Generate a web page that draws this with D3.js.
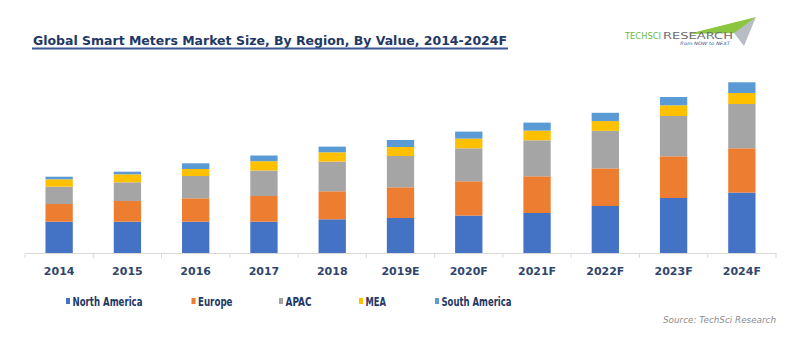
<!DOCTYPE html>
<html>
<head>
<meta charset="utf-8">
<script src="https://cdn.jsdelivr.net/npm/d3@7.9.0/dist/d3.min.js"></script>
<style>
  html, body { margin: 0; padding: 0; background: #fff; }
  svg { display: block; }
</style>
</head>
<body>
<div id="chart"></div>
<script>
// -------- data (arbitrary units) --------
const years = ['2014', '2015', '2016', '2017', '2018', '2019E', '2020F', '2021F', '2022F', '2023F', '2024F'];
const regions = ['North America', 'Europe', 'APAC', 'MEA', 'South America'];
const northAmerica = [31.3, 31.3, 31.3, 31.3, 33.7, 35.0, 37.4, 40.0, 47.0, 55.0, 60.4];
const europe       = [17.7, 20.7, 23.4, 25.7, 28.0, 30.7, 34.3, 36.7, 37.6, 41.7, 44.3];
const apac         = [17.3, 18.7, 22.3, 25.5, 29.7, 31.3, 33.0, 36.0, 37.6, 40.3, 44.3];
const mea          = [7.4, 8.0, 7.0, 9.3, 9.3, 9.0, 9.7, 9.7, 9.7, 10.7, 11.0];
const southAmerica = [2.6, 2.6, 5.7, 5.7, 5.7, 7.0, 7.0, 8.0, 8.3, 8.3, 10.7];
const colors = ['#4472c4', '#ed7d31', '#a5a5a5', '#ffc000', '#5b9bd5'];

const series = [northAmerica, europe, apac, mea, southAmerica];
const table = years.map((y, i) => {
  const row = { year: y };
  regions.forEach((r, k) => { row[r] = series[k][i]; });
  return row;
});

// -------- layout --------
const width = 800;
const height = 358;
const svg = d3.select('#chart').append('svg')
  .attr('width', width)
  .attr('height', height);

const navy = '#1f3864';

// title
svg.append('text')
  .attr('x', 33)
  .attr('y', 45)
  .attr('font-family', 'DejaVu Sans Condensed, DejaVu Sans')
  .attr('font-weight', 'bold')
  .attr('font-size', 13)
  .attr('fill', navy)
  .attr('textLength', 474)
  .attr('lengthAdjust', 'spacingAndGlyphs')
  .text('Global Smart Meters Market Size, By Region, By Value, 2014-2024F');
svg.append('line')
  .attr('x1', 32).attr('x2', 508)
  .attr('y1', 48.5).attr('y2', 48.5)
  .attr('stroke', '#3a5795')
  .attr('stroke-width', 2);

// logo (decoration)
const logo = svg.append('g').attr('class', 'logo');
logo.append('path')
  .attr('d', 'M688,34 L756,17 L738,33 Z')
  .attr('fill', '#8cc63f');
logo.append('path')
  .attr('d', 'M734,33 L756,17 L744,46 Z')
  .attr('fill', '#b8bcc4');
logo.append('text')
  .attr('x', 625).attr('y', 39)
  .attr('font-family', 'DejaVu Sans')
  .attr('font-size', 8)
  .attr('textLength', 36)
  .attr('lengthAdjust', 'spacingAndGlyphs')
  .attr('fill', '#6dbb3c')
  .text('TECHSCI');
logo.append('text')
  .attr('x', 663).attr('y', 39)
  .attr('font-family', 'DejaVu Sans')
  .attr('font-size', 8)
  .attr('textLength', 70)
  .attr('lengthAdjust', 'spacingAndGlyphs')
  .attr('fill', '#6d6e71')
  .text('RESEARCH');
logo.append('text')
  .attr('x', 680).attr('y', 45)
  .attr('font-family', 'DejaVu Sans')
  .attr('font-style', 'italic')
  .attr('font-size', 4.5)
  .attr('textLength', 50)
  .attr('lengthAdjust', 'spacingAndGlyphs')
  .attr('fill', '#2e5597')
  .text('from NOW to NEXT');

// scales
const x = d3.scaleBand()
  .domain(years)
  .range([25, 776])
  .paddingInner(0.6)
  .paddingOuter(0.3);

const y = d3.scaleLinear()
  .domain([0, 180])
  .range([253, 73]);

const stack = d3.stack().keys(regions);
const stacked = stack(table);

// bars
svg.append('g').attr('class', 'bars')
  .selectAll('g')
  .data(stacked)
  .join('g')
  .attr('fill', (d, i) => colors[i])
  .selectAll('rect')
  .data(d => d)
  .join('rect')
  .attr('x', d => x(d.data.year))
  .attr('width', x.bandwidth())
  .attr('y', d => y(d[1]))
  .attr('height', d => y(d[0]) - y(d[1]));

// x axis
const axisG = svg.append('g')
  .attr('class', 'x-axis')
  .attr('transform', `translate(0, ${y(0)})`)
  .call(d3.axisBottom(x).tickSize(0).tickPadding(14));
axisG.select('.domain').attr('stroke', '#d9d9d9');
axisG.selectAll('text')
  .attr('font-family', 'DejaVu Sans')
  .attr('font-weight', 'bold')
  .attr('font-size', 11)
  .attr('fill', '#30466e');

// boundary ticks between categories
const step = x.step();
const edges = d3.range(years.length + 1).map(i => 25 + i * step);
axisG.selectAll('.edge')
  .data(edges)
  .join('line')
  .attr('class', 'edge')
  .attr('x1', d => d).attr('x2', d => d)
  .attr('y1', 0).attr('y2', 5)
  .attr('stroke', '#d9d9d9');

// legend
const legendX = [66, 191.5, 279, 359, 435];
const legendW = [70, 34.5, 26, 20.5, 70];
const legend = svg.append('g').attr('class', 'legend');
const items = legend.selectAll('g')
  .data(regions)
  .join('g')
  .attr('transform', (d, i) => `translate(${legendX[i]}, 301)`);
items.append('rect')
  .attr('x', 0).attr('y', -3)
  .attr('width', 4).attr('height', 6)
  .attr('fill', (d, i) => colors[i]);
items.append('text')
  .attr('x', 6.5)
  .attr('y', 4.5)
  .attr('font-family', 'DejaVu Sans Condensed, DejaVu Sans')
  .attr('font-weight', 'bold')
  .attr('font-size', 12)
  .attr('fill', navy)
  .attr('textLength', (d, i) => legendW[i])
  .attr('lengthAdjust', 'spacingAndGlyphs')
  .text(d => d);

// source
svg.append('text')
  .attr('x', 776)
  .attr('y', 323)
  .attr('text-anchor', 'end')
  .attr('font-family', 'DejaVu Sans')
  .attr('font-style', 'italic')
  .attr('font-size', 8)
  .attr('fill', '#8c8c8c')
  .attr('textLength', 113)
  .attr('lengthAdjust', 'spacingAndGlyphs')
  .text('Source: TechSci Research');
</script>
</body>
</html>
